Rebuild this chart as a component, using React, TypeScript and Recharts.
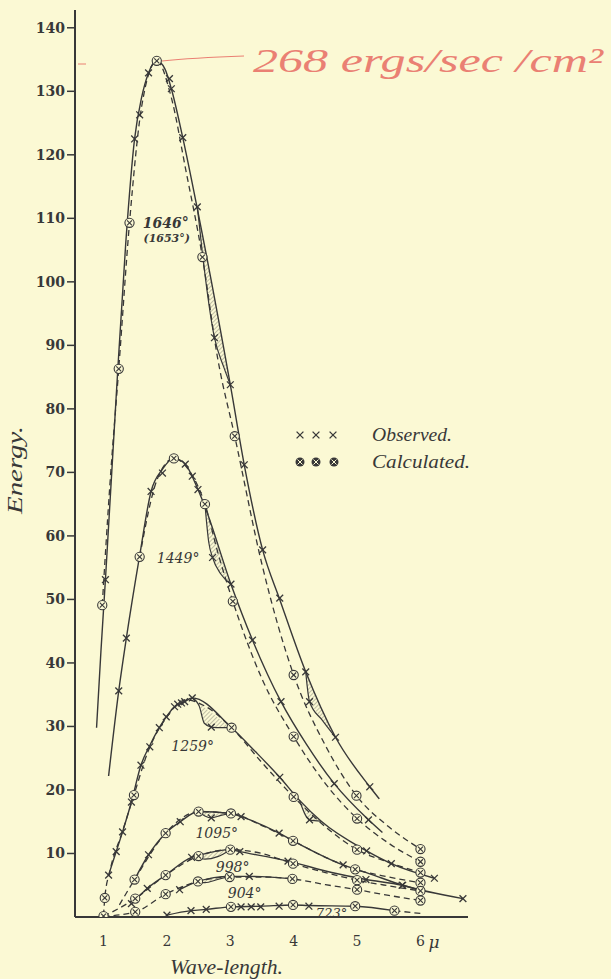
import React from 'react';
import { ComposedChart, Line, Scatter, Area, XAxis, YAxis } from 'recharts';

type P = [number, number];
type B = [number, number, number];

const INK = '#383838';
const BG = '#fbf9d4';
const RED = '#ea8073';

const xTicks = [1, 2, 3, 4, 5, 6];
const yTicks = [10, 20, 30, 40, 50, 60, 70, 80, 90, 100, 110, 120, 130, 140];

// 1646°
const obs1646: P[] = [[0.89, 29.8], [0.96, 42], [1.03, 53.1], [1.2, 82], [1.35, 106], [1.49, 122.5], [1.6, 129], [1.71, 132.9], [1.84, 134.8], [1.97, 133.5], [2.07, 130.4], [2.25, 122.7], [2.48, 111.5], [3.0, 83.8], [3.22, 71.2], [3.51, 57.8], [3.78, 50.0], [4.19, 38.6], [4.66, 28.3], [5.2, 20.5], [5.35, 18.6]];
const calc1646: P[] = [[0.98, 49.1], [1.1, 68], [1.24, 86.3], [1.41, 109.3], [1.6, 127.5], [1.84, 134.8], [2.07, 129], [2.3, 117.5], [2.56, 103.9], [2.8, 88], [3.07, 75.7], [3.5, 55.5], [4.0, 38.1], [4.5, 27], [4.99, 19.1], [5.5, 14.2], [6.0, 10.7]];
const obsPts1646: P[] = [[1.03, 53.1], [1.49, 122.5], [1.57, 126.3], [1.71, 132.9], [2.04, 132.0], [2.07, 130.4], [2.25, 122.7], [2.48, 111.8], [2.75, 91.2], [3.0, 83.8], [3.22, 71.2], [3.51, 57.8], [3.78, 50.2], [4.19, 38.6], [4.25, 33.9], [4.66, 28.3], [5.2, 20.5]];
const calcPts1646: P[] = [[0.98, 49.1], [1.24, 86.3], [1.41, 109.3], [1.84, 134.8], [2.56, 103.9], [3.07, 75.7], [4.0, 38.1], [4.99, 19.1], [6.0, 10.7]];
const bands1646: B[][] = [
  [[2.48, 111.8, 111.8], [2.56, 104.5, 107.4], [2.75, 91.2, 97.0], [2.9, 86.5, 89.3], [3.0, 83.8, 83.8]],
  [[4.19, 38.6, 38.6], [4.25, 33.9, 37.2], [4.45, 31.0, 32.6], [4.66, 28.3, 28.3]],
];

// 1449°
const obs1449: P[] = [[1.08, 22.2], [1.24, 35.6], [1.36, 43.9], [1.57, 56.9], [1.75, 67], [1.93, 70.5], [2.11, 72.2], [2.29, 71.3], [2.49, 67.3], [2.6, 64.6], [3.01, 52.4], [3.35, 43.6], [3.8, 33.9], [4.2, 27.2], [4.64, 21.0], [5.18, 15.3], [5.4, 13.3]];
const calc1449: P[] = [[1.57, 56.7], [1.85, 69], [2.11, 72.2], [2.35, 70.3], [2.6, 65], [2.8, 57.5], [3.04, 49.7], [3.5, 37.5], [4.0, 28.4], [4.5, 21], [5.0, 15.5], [5.5, 11.6], [6.0, 8.7]];
const obsPts1449: P[] = [[1.24, 35.6], [1.36, 43.9], [1.75, 67], [1.93, 69.9], [2.29, 71.3], [2.4, 69.4], [2.49, 67.3], [2.72, 56.6], [3.01, 52.4], [3.35, 43.6], [3.8, 33.9], [4.64, 21.0], [5.18, 15.3]];
const calcPts1449: P[] = [[1.57, 56.7], [2.11, 72.2], [2.6, 65], [3.04, 49.7], [4.0, 28.4], [5.0, 15.5], [6.0, 8.7]];
const bands1449: B[][] = [
  [[2.6, 65, 65], [2.66, 59, 63], [2.72, 56.6, 61.3], [2.85, 54, 57.3], [3.01, 52.4, 52.4]],
];

// 1259°
const obs1259: P[] = [[1.08, 6.6], [1.2, 10.3], [1.3, 13.4], [1.44, 18.1], [1.59, 23.9], [1.73, 27.0], [1.88, 29.8], [1.99, 31.5], [2.12, 33.1], [2.28, 33.9], [2.4, 34.5], [3.02, 29.8], [3.4, 26], [3.78, 22], [4.09, 18.4], [4.43, 15.1], [5.15, 10.4], [5.54, 8.4], [6.22, 6.1]];
const calc1259: P[] = [[1.0, 0.2], [1.02, 3.0], [1.1, 7.2], [1.3, 13.5], [1.48, 19.2], [1.7, 26], [2.0, 31.5], [2.3, 34.2], [2.6, 33.2], [3.02, 29.8], [3.5, 24.3], [4.0, 18.9], [4.5, 14.2], [5.0, 10.6], [5.5, 8.6], [6.0, 7.0]];
const obsPts1259: P[] = [[1.08, 6.6], [1.2, 10.3], [1.3, 13.4], [1.44, 18.1], [1.59, 23.9], [1.73, 26.8], [1.88, 29.8], [1.99, 31.5], [2.12, 33.1], [2.17, 33.5], [2.23, 33.7], [2.28, 33.9], [2.4, 34.5], [2.7, 29.9], [3.78, 22], [4.25, 15.3], [5.15, 10.4], [5.54, 8.4], [6.22, 6.1]];
const calcPts1259: P[] = [[1.0, 0.15], [1.02, 3.0], [1.48, 19.2], [3.02, 29.8], [4.0, 18.9], [5.0, 10.6], [6.0, 7.0]];
const bands1259: B[][] = [
  [[2.4, 34.5, 34.5], [2.51, 33.2, 33.6], [2.59, 30.5, 33.0], [2.7, 29.9, 32.2], [2.85, 29.8, 31.0], [3.02, 29.8, 29.8]],
  [[4.09, 18.4, 18.4], [4.25, 15.3, 16.8], [4.43, 15.1, 15.1]],
];

// 1095°
const obs1095: P[] = [[1.49, 5.9], [1.71, 9.8], [1.98, 13.2], [2.21, 15.0], [2.5, 16.6], [3.01, 16.3], [3.17, 15.8], [3.77, 13.2], [3.99, 12.0], [4.78, 8.2], [5.2, 6.8], [5.72, 5.0], [6.67, 2.9]];
const calc1095: P[] = [[1.25, 1.9], [1.49, 5.9], [1.98, 13.2], [2.5, 16.6], [3.01, 16.3], [3.5, 14.4], [3.99, 12.0], [4.5, 9.4], [4.97, 7.5], [5.5, 6.3], [6.0, 5.4]];
const obsPts1095: P[] = [[1.71, 9.8], [2.21, 15.0], [2.7, 15.6], [3.17, 15.8], [3.77, 13.2], [4.78, 8.2], [5.72, 5.0], [6.67, 2.9]];
const calcPts1095: P[] = [[1.49, 5.9], [1.98, 13.2], [2.5, 16.6], [3.01, 16.3], [3.99, 12.0], [4.97, 7.5], [6.0, 5.4]];
const bands1095: B[][] = [
  [[2.5, 16.6, 16.6], [2.6, 15.9, 16.7], [2.7, 15.6, 16.7], [2.85, 16.0, 16.6], [3.01, 16.3, 16.3]],
];

// 998°
const obs998: P[] = [[1.44, 2.1], [1.69, 4.5], [1.98, 6.6], [2.39, 9.4], [2.5, 9.7], [3.0, 10.6], [3.15, 10.3], [3.91, 8.8], [4.6, 7.0], [5.14, 5.9], [5.71, 5.0], [6.0, 4.2]];
const calc998: P[] = [[1.0, 0.1], [1.5, 2.9], [1.98, 6.6], [2.5, 9.6], [3.0, 10.6], [3.5, 10.0], [3.99, 8.4], [4.5, 7.0], [5.0, 5.8], [5.5, 4.9], [6.0, 4.1]];
const obsPts998: P[] = [[1.44, 2.1], [1.69, 4.5], [2.39, 9.4], [3.15, 10.3], [3.91, 8.8], [5.14, 5.9], [5.71, 5.0]];
const calcPts998: P[] = [[1.5, 2.9], [1.98, 6.6], [2.5, 9.6], [3.0, 10.6], [3.99, 8.4], [5.0, 5.8], [6.0, 4.1]];
const bands998: B[][] = [
  [[2.45, 9.6, 9.6], [2.6, 9.1, 10.1], [2.8, 9.5, 10.5], [3.0, 10.6, 10.6]],
];

// 904°
const obs904: P[] = [[2.2, 4.3], [2.49, 5.6], [2.99, 6.4], [3.3, 6.4], [3.98, 6.0]];
const calc904: P[] = [[1.0, 0.1], [1.5, 0.8], [1.98, 3.6], [2.49, 5.6], [2.99, 6.3], [3.5, 6.3], [3.98, 6.0], [4.5, 5.1], [5.0, 4.3], [5.5, 3.4], [6.0, 2.6]];
const obsPts904: P[] = [[2.2, 4.3], [3.3, 6.4]];
const calcPts904: P[] = [[1.5, 0.8], [1.98, 3.6], [2.49, 5.6], [2.99, 6.3], [3.98, 6.0], [5.0, 4.3], [6.0, 2.6]];
const bands904: B[][] = [
  [[2.45, 5.6, 5.6], [2.6, 5.4, 6.0], [2.8, 5.9, 6.3], [2.95, 6.3, 6.3]],
];

// 723°
const obs723: P[] = [[2.0, 0.3], [2.38, 1.0], [2.62, 1.2], [3.01, 1.6], [3.48, 1.7], [3.99, 1.9], [4.24, 1.8], [4.97, 1.7], [5.59, 1.0]];
const calc723: P[] = [[5.59, 1.0], [6.05, 0.5]];
const obsPts723: P[] = [[2.0, 0.3], [2.38, 1.0], [2.62, 1.2], [3.17, 1.6], [3.33, 1.6], [3.48, 1.6], [3.77, 1.7], [4.24, 1.7]];
const calcPts723: P[] = [[3.01, 1.6], [3.99, 1.9], [4.97, 1.7], [5.59, 1.0]];

const tempLabels: [string, number, number][] = [
  ['1646°', 1.62, 108.5],
  ['(1653°)', 1.63, 106.2],
  ['1449°', 1.84, 55.7],
  ['1259°', 2.07, 26.1],
  ['1095°', 2.45, 12.4],
  ['998°', 2.77, 7.1],
  ['904°', 2.96, 3.0],
  ['723°', 4.35, -0.2],
];
const labelFont = [14, 11, 14, 14, 14, 14, 14, 13];

const curves = [
  { obs: obs1646, calc: calc1646, op: obsPts1646, cp: calcPts1646, bands: bands1646 },
  { obs: obs1449, calc: calc1449, op: obsPts1449, cp: calcPts1449, bands: bands1449 },
  { obs: obs1259, calc: calc1259, op: obsPts1259, cp: calcPts1259, bands: bands1259 },
  { obs: obs1095, calc: calc1095, op: obsPts1095, cp: calcPts1095, bands: bands1095 },
  { obs: obs998, calc: calc998, op: obsPts998, cp: calcPts998, bands: bands998 },
  { obs: obs904, calc: calc904, op: obsPts904, cp: calcPts904, bands: bands904 },
  { obs: obs723, calc: calc723, op: obsPts723, cp: calcPts723, bands: [] as B[][] },
];

const xy = (a: P[]) => a.map(([x, y]) => ({ x, y }));
const band = (a: B[]) => a.map(([x, lo, hi]) => ({ x, r: [lo, hi], lo }));

const Cross = (p: any) => {
  const { cx, cy } = p;
  if (cx == null || cy == null) return <g />;
  const s = 3.4;
  return (
    <g stroke={INK} strokeWidth={1.3}>
      <line x1={cx - s} y1={cy - s} x2={cx + s} y2={cy + s} />
      <line x1={cx - s} y1={cy + s} x2={cx + s} y2={cy - s} />
    </g>
  );
};

const Circ = (p: any) => {
  const { cx, cy } = p;
  if (cx == null || cy == null) return <g />;
  const s = 2.5;
  return (
    <g stroke={INK} strokeWidth={1.1}>
      <circle cx={cx} cy={cy} r={4.6} fill={BG} />
      <line x1={cx - s} y1={cy - s} x2={cx + s} y2={cy + s} />
      <line x1={cx - s} y1={cy + s} x2={cx + s} y2={cy - s} />
    </g>
  );
};

const XTick = (p: any) => {
  const { x, y, payload } = p;
  return (
    <g>
      <text x={x} y={y + 21} textAnchor="middle" fontFamily="DejaVu Serif" fontSize={14} fill={INK}>{payload.value}</text>
      {payload.value === 6 && (
        <text x={x + 8} y={y + 23} textAnchor="start" fontFamily="DejaVu Serif" fontStyle="italic" fontSize={17} fill={INK}>μ</text>
      )}
    </g>
  );
};

const labels = tempLabels.map(([t, x, y], i) => ({ x, y, t, i }));

export default function App() {
  const lines: React.ReactNode[] = [];
  curves.forEach((c, k) => {
    c.bands.forEach((b, j) => {
      lines.push(
        <Area key={`a${k}-${j}`} data={band(b)} dataKey="r" type="linear" stroke="none" fill="url(#hatch)" isAnimationActive={false} activeDot={false} dot={false} />
      );
      lines.push(
        <Line key={`d${k}-${j}`} data={band(b)} dataKey="lo" type="monotone" stroke={INK} strokeWidth={1.2} dot={false} activeDot={false} isAnimationActive={false} />
      );
    });
    lines.push(
      <Line key={`c${k}`} data={xy(c.calc)} dataKey="y" type="monotone" stroke={INK} strokeWidth={1.3} strokeDasharray="6 4" dot={false} activeDot={false} isAnimationActive={false} />
    );
    lines.push(
      <Line key={`o${k}`} data={xy(c.obs)} dataKey="y" type="monotone" stroke={INK} strokeWidth={1.4} dot={false} activeDot={false} isAnimationActive={false} />
    );
  });
  curves.forEach((c, k) => {
    lines.push(<Scatter key={`op${k}`} data={xy(c.op)} dataKey="y" shape={Cross} isAnimationActive={false} />);
    lines.push(<Scatter key={`cp${k}`} data={xy(c.cp)} dataKey="y" shape={Circ} isAnimationActive={false} />);
  });

  return (
    <div style={{ position: 'absolute', left: 0, top: 0, width: 611, height: 979, background: BG, overflow: 'hidden' }}>
      <ComposedChart width={611} height={979} margin={{ top: 10, right: 143, bottom: 0, left: 0 }}>
        <defs>
          <pattern id="hatch" width="3" height="3" patternUnits="userSpaceOnUse" patternTransform="rotate(45)">
            <line x1="0" y1="0" x2="0" y2="3" stroke={INK} strokeWidth="1" />
          </pattern>
        </defs>
        <XAxis dataKey="x" type="number" domain={[0.55, 6.75]} ticks={xTicks} allowDataOverflow height={62}
          tickLine={false} axisLine={{ stroke: INK, strokeWidth: 2 }} tick={<XTick />} interval={0} />
        <YAxis type="number" domain={[0, 142.8]} ticks={yTicks} allowDataOverflow width={75} tickSize={8}
          tickLine={{ stroke: INK, strokeWidth: 1.5 }} axisLine={{ stroke: INK, strokeWidth: 2 }} interval={0}
          tick={{ fill: INK, fontSize: 14, fontFamily: 'DejaVu Serif', fontWeight: 'bold' }} />
        {lines}
        <Scatter data={labels} dataKey="y" isAnimationActive={false}
          shape={(p: any) => (
            <text x={p.cx} y={p.cy} fontFamily="DejaVu Serif" fontStyle="italic" fontWeight={p.payload.i <= 1 ? 'bold' : 'normal'}
              fontSize={labelFont[p.payload.i]} fill={INK}>{p.payload.t}</text>
          )} />
      </ComposedChart>

      <svg width={611} height={979} style={{ position: 'absolute', left: 0, top: 0, pointerEvents: 'none' }}>
        <line x1={78} y1={64} x2={86} y2={64} stroke={RED} strokeWidth={1} />
        <path d="M162 61 C 190 58, 215 57, 244 56" stroke={RED} strokeWidth={1.2} fill="none" />
        <text x={253} y={72} fontFamily="Liberation Serif" fontStyle="italic" fontSize={33} fill={RED}
          textLength={350} lengthAdjust="spacingAndGlyphs">268 ergs/sec /cm²</text>
        <g fill={INK} fontFamily="Liberation Serif" fontStyle="italic">
          <text x={16} y={470} fontSize={22} textAnchor="middle" transform="rotate(-90 16 470)" dy={6}
            textLength={88} lengthAdjust="spacingAndGlyphs">Energy.</text>
          <text x={170} y={974} fontSize={21} textLength={113} lengthAdjust="spacingAndGlyphs">Wave-length.</text>
          <text x={372} y={441} fontSize={19} textLength={80} lengthAdjust="spacingAndGlyphs">Observed.</text>
          <text x={372} y={468} fontSize={19} textLength={98} lengthAdjust="spacingAndGlyphs">Calculated.</text>
        </g>
        {[300, 316, 333].map((x, i) => (
          <Cross key={`lx${i}`} cx={x} cy={435} />
        ))}
        {[300, 316, 334].map((x, i) => (
          <g key={`lc${i}`}>
            <circle cx={x} cy={462} r={4.5} fill={INK} />
            <line x1={x - 2.5} y1={459.5} x2={x + 2.5} y2={464.5} stroke={BG} strokeWidth={1} />
            <line x1={x - 2.5} y1={464.5} x2={x + 2.5} y2={459.5} stroke={BG} strokeWidth={1} />
          </g>
        ))}
      </svg>
    </div>
  );
}
